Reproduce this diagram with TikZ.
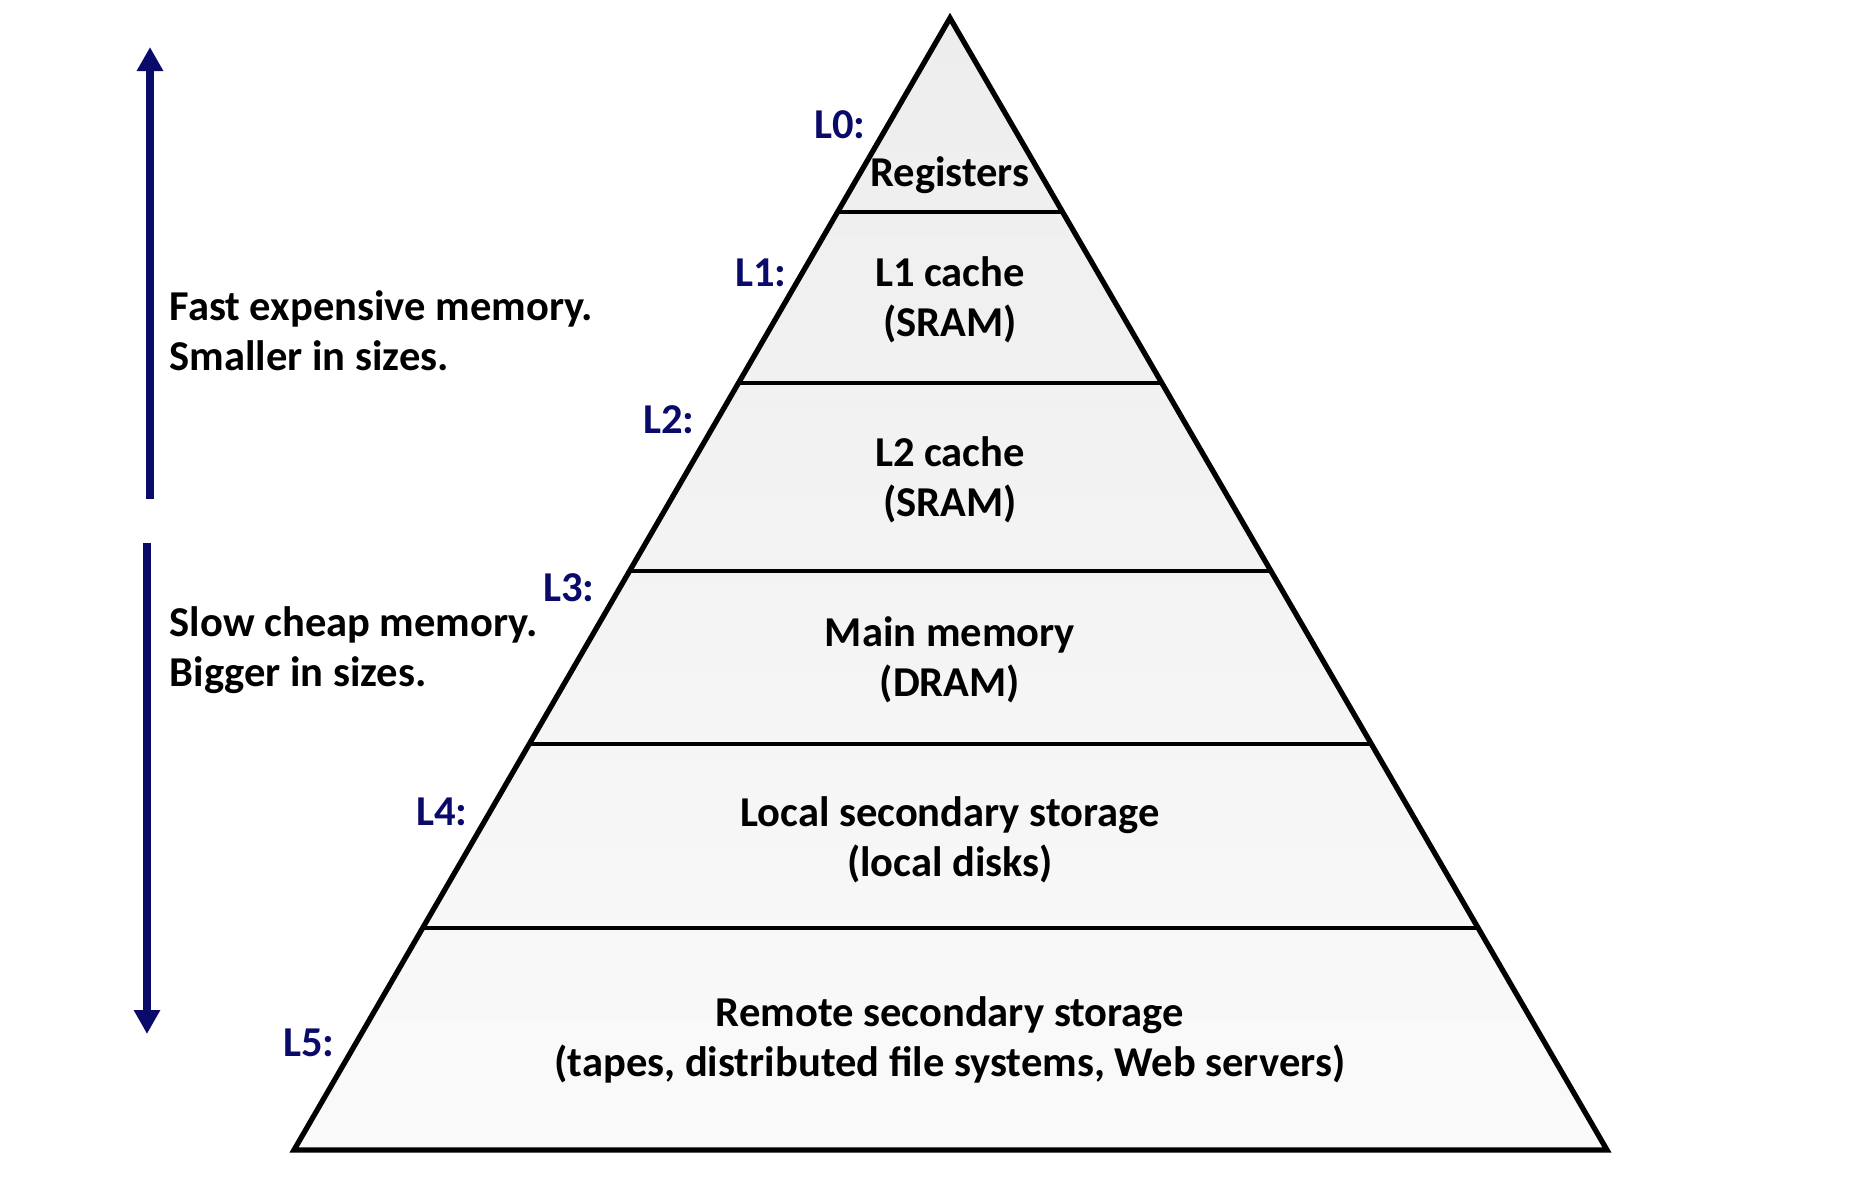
\documentclass[tikz,border=0pt]{standalone}
\usepackage{fontspec}
\setmainfont{Carlito}
\usetikzlibrary{arrows.meta,calc}
\definecolor{memnavy}{HTML}{0A0A6B}
\definecolor{bandtop}{HTML}{EDEDED}
\definecolor{bandbot}{HTML}{FAFAFA}

\begin{document}
\begin{tikzpicture}[
  x=0.01cm, y=-0.01cm,
  font=\fontsize{12.1}{14.2}\selectfont\bfseries,
  lvl/.style={align=center,inner sep=0pt,text=black},
  tag/.style={inner sep=0pt,text=memnavy},
  note/.style={align=left,anchor=west,inner sep=0pt},
  edge/.style={line width=1.5pt,line join=miter},
  span/.style={line width=2.1pt,color=memnavy,-{Triangle[length=0.24cm,width=0.25cm]}},
]
\useasboundingbox (0,0) rectangle (1850,1202);

% pyramid corners
\coordinate (top) at (950,18);
\coordinate (bl) at (294,1150);
\coordinate (br) at (1607,1150);

\shade[top color=bandtop,bottom color=bandbot] (top) -- (bl) -- (br) -- cycle;
\foreach \t in {0.1714,0.3224,0.4885,0.6413,0.8039}
  \draw[line width=1.3pt] ($(top)!\t!(bl)$) -- ($(top)!\t!(br)$);
\draw[edge] (top) -- (bl) -- (br) -- cycle;

% level texts
\node[lvl] (reg) at (950,175) {Registers};
\node[lvl] (lone) at (950,300) {L1 cache\\(SRAM)};
\node[lvl] (ltwo) at (950,480) {L2 cache\\(SRAM)};
\node[lvl] (dram) at (950,660) {Main memory\\(DRAM)};
\node[lvl] (disk) at (950,840) {Local secondary storage\\(local disks)};
\node[lvl] (remote) at (950,1040) {Remote secondary storage\\(tapes, distributed file systems, Web servers)};

% level tags
\node[tag] (tzero) at (840,125) {L0:};
\node[tag] (tone) at (761,273) {L1:};
\node[tag] (ttwo) at (669,420) {L2:};
\node[tag] (tthree) at (569,588) {L3:};
\node[tag] (tfour) at (442,812) {L4:};
\node[tag] (tfive) at (309,1043) {L5:};

% side arrows and notes
\coordinate (upfoot) at (150,499);
\coordinate (uptip) at (150,47);
\coordinate (downfoot) at (147,543);
\coordinate (downtip) at (147,1034);
\draw[span] (upfoot) -- (uptip);
\draw[span] (downfoot) -- (downtip);
\node[note] (fast) at (169,331) {Fast expensive memory.\\Smaller in sizes.};
\node[note] (slow) at (169,650) {Slow cheap memory.\\Bigger in sizes.};
\end{tikzpicture}
\end{document}
